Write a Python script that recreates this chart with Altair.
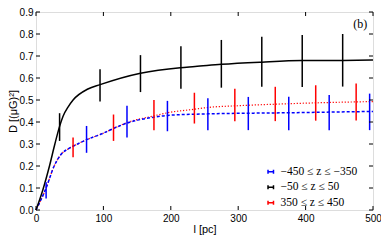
import altair as alt
import pandas as pd

# ---- data ----
labels = ["\u2212450 \u2264 z \u2264 \u2212350", "\u221250 \u2264 z \u2264 50", "350 \u2264 z \u2264 450"]
colors = ["#0000ff", "#000000", "#ff0000"]

# model curves
black_l = [0, 10, 20, 28, 35, 40, 48, 55, 77, 95, 155, 214, 236, 275, 335, 395, 455, 500]
black_D = [0, 0.09, 0.20, 0.30, 0.38, 0.425, 0.47, 0.50, 0.55, 0.57, 0.622, 0.647, 0.652, 0.662, 0.672, 0.679, 0.680, 0.682]

blue_l = [0, 15, 27, 37, 49, 59, 74, 99, 119, 135, 175, 195, 255, 315, 375, 435, 500]
blue_D = [0, 0.10, 0.20, 0.252, 0.28, 0.296, 0.318, 0.348, 0.376, 0.395, 0.422, 0.430, 0.437, 0.440, 0.442, 0.445, 0.448]

red_l = [0, 15, 27, 37, 49, 59, 74, 99, 119, 135, 175, 195, 235, 255, 300, 355, 415, 500]
red_D = [0, 0.10, 0.20, 0.252, 0.28, 0.296, 0.318, 0.348, 0.376, 0.397, 0.428, 0.442, 0.458, 0.466, 0.474, 0.481, 0.487, 0.493]

# error bars
black_bx = [35, 95, 155, 215, 275, 335, 395, 455]
black_lo = [0.314, 0.493, 0.536, 0.551, 0.556, 0.560, 0.559, 0.561]
black_hi = [0.440, 0.640, 0.704, 0.744, 0.773, 0.787, 0.796, 0.800]

blue_bx = [15, 75, 135, 195, 255, 315, 375, 435, 495]
blue_lo = [0.052, 0.260, 0.329, 0.358, 0.363, 0.363, 0.363, 0.363, 0.363]
blue_hi = [0.126, 0.382, 0.474, 0.496, 0.508, 0.514, 0.515, 0.523, 0.529]

red_bx = [55, 115, 175, 235, 295, 355, 415, 475]
red_lo = [0.240, 0.314, 0.363, 0.393, 0.403, 0.404, 0.406, 0.407]
red_hi = [0.329, 0.434, 0.500, 0.533, 0.551, 0.560, 0.567, 0.575]

x_ticks = [0, 100, 200, 300, 400, 500]
y_ticks = [0.0, 0.1, 0.2, 0.3, 0.4, 0.5, 0.6, 0.7, 0.8, 0.9]

W, H = 337, 198
TL = 4

def line_df(lv, dv, name):
    return pd.DataFrame({"l": lv, "D": dv, "series": name})

def bar_df(xv, lo, hi, name):
    return pd.DataFrame({"l": xv, "lo": lo, "hi": hi, "series": name})

xs = alt.Scale(domain=[0, 500], nice=False, zero=False)
ys = alt.Scale(domain=[0, 0.9], nice=False, zero=False)
cs = alt.Scale(domain=labels, range=colors)

x_axis = alt.Axis(values=x_ticks, format="d", title="l [pc]", ticks=False, grid=False,
                  domain=False, labelPadding=3, labelOverlap=False, labelFlush=False,
                  titleFontWeight="normal", titleBaseline="alphabetic", titleY=22)
y_axis = alt.Axis(values=y_ticks, format=".1f", title="D [(\u03bcG)\u00b2]", ticks=False, grid=False,
                  domain=False, labelPadding=3, labelOverlap=False, labelFlush=False,
                  labelBound=False, titleFontWeight="normal", titlePadding=1)

legend = alt.Legend(title=None, orient="none", legendX=229, legendY=154,
                    symbolType="M-1,-0.7L-1,0.7M-1,0L1,0M1,-0.7L1,0.7",
                    symbolSize=30, symbolStrokeWidth=1.5, symbolFillColor="transparent",
                    labelFont="Liberation Serif", labelFontSize=11.5, labelColor="black",
                    rowPadding=2.5, labelOffset=4, padding=0)

X = lambda f: alt.X(f, scale=xs, axis=x_axis, title="l [pc]")
Y = lambda f: alt.Y(f, scale=ys, axis=y_axis, title="D [(\u03bcG)\u00b2]")

def line_layer(df, dash, width=1.5):
    kw = dict(strokeWidth=width, interpolate="monotone")
    if dash:
        kw["strokeDash"] = dash
    return alt.Chart(df).mark_line(**kw).encode(
        x=X("l:Q"), y=Y("D:Q"),
        color=alt.Color("series:N", scale=cs, legend=legend),
    )

def bar_layer(df):
    return alt.Chart(df).mark_rule(strokeWidth=1.5).encode(
        x=X("l:Q"), y=Y("lo:Q"), y2="hi:Q",
        color=alt.Color("series:N", scale=cs, legend=legend),
    )

lines = [
    line_layer(line_df(red_l, red_D, labels[2]), [1.2, 1.8], 1.2),
    line_layer(line_df(blue_l, blue_D, labels[0]), [3, 2], 1.5),
    line_layer(line_df(black_l, black_D, labels[1]), None, 1.5),
]
bars = [
    bar_layer(bar_df(black_bx, black_lo, black_hi, labels[1])),
    bar_layer(bar_df(blue_bx, blue_lo, blue_hi, labels[0])),
    bar_layer(bar_df(red_bx, red_lo, red_hi, labels[2])),
]

xt = pd.DataFrame({"t": x_ticks})
yt = pd.DataFrame({"t": y_ticks})
ticks = [
    alt.Chart(xt).mark_rule(color="black", strokeWidth=1).encode(
        x=X("t:Q"), y=alt.value(H), y2=alt.value(H - TL)),
    alt.Chart(xt).mark_rule(color="black", strokeWidth=1).encode(
        x=X("t:Q"), y=alt.value(0), y2=alt.value(TL)),
    alt.Chart(yt).mark_rule(color="black", strokeWidth=1).encode(
        y=Y("t:Q"), x=alt.value(0), x2=alt.value(TL)),
    alt.Chart(yt).mark_rule(color="black", strokeWidth=1).encode(
        y=Y("t:Q"), x=alt.value(W), x2=alt.value(W - TL)),
]

panel = pd.DataFrame({"l": [481], "D": [0.846], "txt": ["(b)"]})
ptext = alt.Chart(panel).mark_text(font="Liberation Serif", fontSize=12, color="black").encode(
    x=X("l:Q"), y=Y("D:Q"), text="txt:N")

chart = alt.layer(*lines, *bars, *ticks, ptext).properties(
    width=W, height=H,
    autosize=alt.AutoSizeParams(type="none"),
    padding={"left": 28, "top": 4, "right": 8, "bottom": 25},
).configure_view(stroke="black", strokeWidth=1.2).configure_axis(
    labelFont="DejaVu Sans", labelFontSize=10, labelColor="black", labelOverlap=False,
    titleFont="DejaVu Sans", titleFontSize=10, titleColor="black", titleFontWeight="normal",
).configure(background="white")

chart.save("out.html", embed_options={"renderer": "svg", "actions": False})
